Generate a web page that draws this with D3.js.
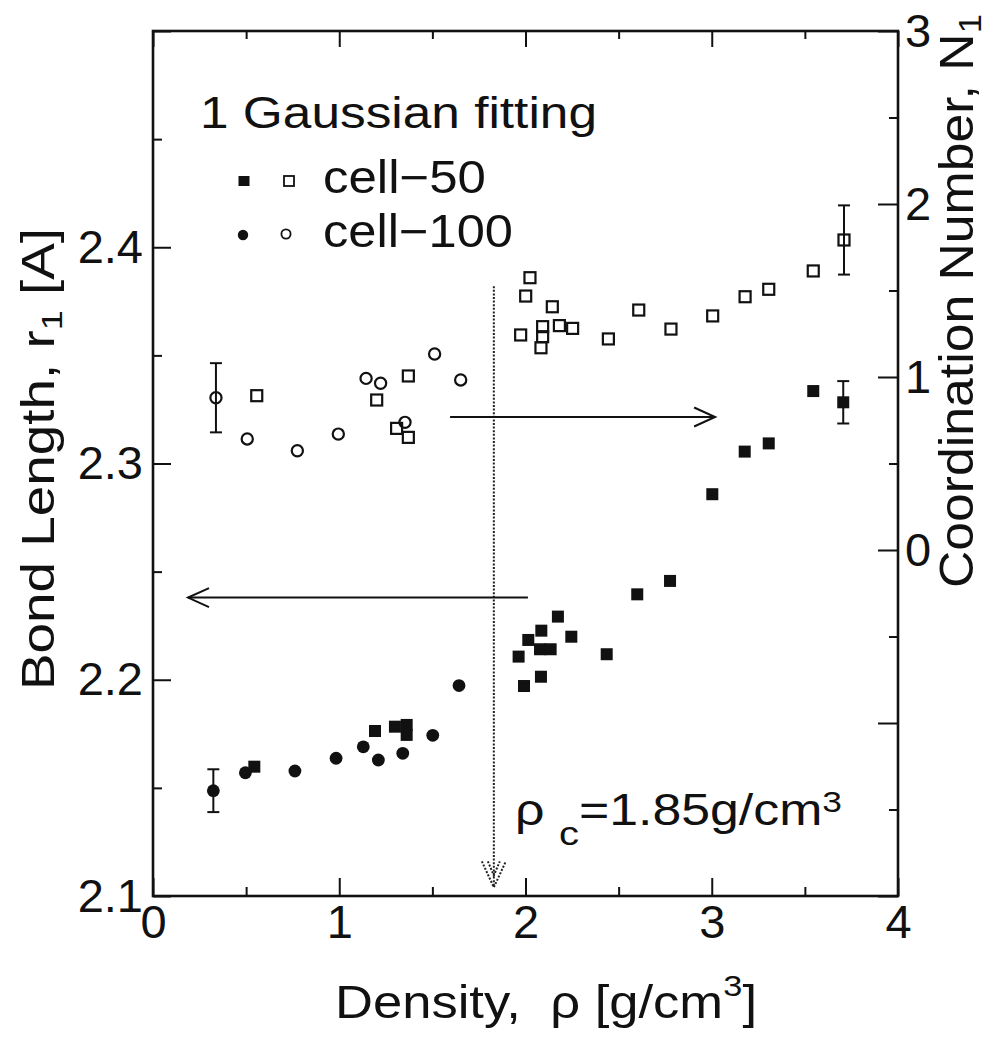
<!DOCTYPE html>
<html>
<head>
<meta charset="utf-8">
<script src="https://cdn.jsdelivr.net/npm/d3@7"></script>
<style>
  html, body { margin: 0; padding: 0; background: #fff; }
  svg { display: block; }
  text { font-family: "Liberation Sans", Arial, Helvetica, sans-serif; fill: #111; white-space: pre; }
</style>
</head>
<body>
<svg id="chart" width="1000" height="1041"></svg>
<script>
// ---------------- data ----------------
// cell-50, bond length r1 [A] (filled squares, left axis)
const cell50BondRho = [0.544, 1.192, 1.299, 1.362, 1.362, 1.992, 2.083, 1.963, 2.436, 2.078, 2.135, 2.246, 2.015, 2.085, 2.174, 2.600, 2.776, 3.003, 3.177, 3.306, 3.545, 3.706];
const cell50Bond    = [2.1598, 2.1763, 2.1783, 2.1791, 2.1745, 2.1971, 2.2014, 2.2107, 2.2118, 2.2141, 2.2141, 2.2199, 2.2184, 2.2227, 2.2292, 2.2395, 2.2457, 2.2858, 2.3055, 2.3093, 2.3335, 2.3283];
const cell50BondErr = [0, 0, 0, 0, 0, 0, 0, 0, 0, 0, 0, 0, 0, 0, 0, 0, 0, 0, 0, 0, 0, 0.0098];

// cell-100, bond length (filled circles, left axis)
const cell100BondRho = [0.324, 0.496, 0.762, 0.983, 1.129, 1.210, 1.341, 1.502, 1.643];
const cell100Bond    = [2.1487, 2.1570, 2.1578, 2.1637, 2.1690, 2.1629, 2.1660, 2.1743, 2.1973];
const cell100BondErr = [0.0099, 0, 0, 0, 0, 0, 0, 0, 0];

// cell-50, coordination number N1 (open squares, right axis)
const cell50CoordRho = [0.557, 1.201, 1.371, 1.308, 1.371, 2.024, 2.001, 2.144, 1.974, 2.092, 2.092, 2.083, 2.182, 2.253, 2.445, 2.608, 2.781, 3.005, 3.179, 3.306, 3.545, 3.710];
const cell50Coord    = [0.892, 0.867, 1.006, 0.703, 0.651, 1.574, 1.468, 1.406, 1.243, 1.291, 1.233, 1.169, 1.297, 1.281, 1.220, 1.387, 1.277, 1.353, 1.464, 1.507, 1.613, 1.792];
const cell50CoordErr = [0, 0, 0, 0, 0, 0, 0, 0, 0, 0, 0, 0, 0, 0, 0, 0, 0, 0, 0, 0, 0, 0.2];

// cell-100, coordination number (open circles, right axis)
const cell100CoordRho = [0.338, 0.506, 0.775, 0.995, 1.144, 1.222, 1.353, 1.512, 1.652];
const cell100Coord    = [0.880, 0.642, 0.574, 0.670, 0.992, 0.964, 0.738, 1.133, 0.983];
const cell100CoordErr = [0.2, 0, 0, 0, 0, 0, 0, 0, 0];

// axes
const xDomain = [0, 4];
const xTicks = [0, 1, 2, 3, 4];
const xMinorTicks = [0.5, 1.5, 2.5, 3.5];
const yLeftDomain = [2.1, 2.5];
const yLeftTicks = [2.1, 2.2, 2.3, 2.4];
const yLeftMajorTicks = [2.1, 2.2, 2.3, 2.4, 2.5];
const yLeftMinorTicks = [2.15, 2.25, 2.35, 2.45];
const yRightDomain = [-2, 3];
const yRightTicks = [0, 1, 2, 3];
const yRightMajorTicks = [-2, -1, 0, 1, 2, 3];
const yRightMinorTicks = [-1.5, -0.5, 0.5, 1.5, 2.5];

// annotations (data units)
const rhoCLabel = "1.85";
const rhoCLine = 1.83;            // dotted line position as drawn
const rhoCLineTop = 2.382;        // left-axis units
const rhoCLineBottom = 2.104;
const arrowRight = {from: 1.595, to: 3.018, y: 2.3215};   // points to the right axis
const arrowLeft  = {from: 2.013, to: 0.188, y: 2.238};    // points to the left axis

// ---------------- layout ----------------
const L = 153, R = 898, T = 31, B = 896;
const svg = d3.select("#chart");
const x  = d3.scaleLinear().domain(xDomain).range([L, R]);
const yL = d3.scaleLinear().domain(yLeftDomain).range([B, T]);
const yR = d3.scaleLinear().domain(yRightDomain).range([B, T]);
const ink = "#111";

function styleAxis(g) {
  g.select(".domain").remove();
  g.selectAll(".tick line").attr("stroke", ink).attr("stroke-width", 2);
  g.selectAll(".tick text").attr("font-size", 47).attr("fill", ink)
    .attr("font-family", '"Liberation Sans", Arial, Helvetica, sans-serif');
}

// bottom
svg.append("g").attr("transform", `translate(0,${B})`)
  .call(d3.axisBottom(x).tickValues(xTicks).tickSize(-18).tickPadding(9).tickFormat(d3.format("d")))
  .call(styleAxis);
svg.append("g").attr("transform", `translate(0,${B})`)
  .call(d3.axisBottom(x).tickValues(xMinorTicks).tickSize(-9).tickFormat(""))
  .call(styleAxis);
// top
svg.append("g").attr("transform", `translate(0,${T})`)
  .call(d3.axisTop(x).tickValues(xTicks).tickSize(-16).tickFormat(""))
  .call(styleAxis);
svg.append("g").attr("transform", `translate(0,${T})`)
  .call(d3.axisTop(x).tickValues(xMinorTicks).tickSize(-8).tickFormat(""))
  .call(styleAxis);
// left
svg.append("g").attr("transform", `translate(${L},0)`)
  .call(d3.axisLeft(yL).tickValues(yLeftMajorTicks).tickSize(-18).tickPadding(10)
    .tickFormat(d => yLeftTicks.includes(d) ? d3.format(".1f")(d) : ""))
  .call(styleAxis);
svg.append("g").attr("transform", `translate(${L},0)`)
  .call(d3.axisLeft(yL).tickValues(yLeftMinorTicks).tickSize(-9).tickFormat(""))
  .call(styleAxis);
// right
svg.append("g").attr("transform", `translate(${R},0)`)
  .call(d3.axisRight(yR).tickValues(yRightMajorTicks).tickSize(-20).tickPadding(7)
    .tickFormat(d => yRightTicks.includes(d) ? d3.format("d")(d) : ""))
  .call(styleAxis);
svg.append("g").attr("transform", `translate(${R},0)`)
  .call(d3.axisRight(yR).tickValues(yRightMinorTicks).tickSize(-9).tickFormat(""))
  .call(styleAxis);

// frame
svg.append("rect").attr("x", L).attr("y", T).attr("width", R - L).attr("height", B - T)
  .attr("fill", "none").attr("stroke", ink).attr("stroke-width", 2.6);

// ---------------- text helper ----------------
function runs(x0, y0, rot, parts, target, anchor) {
  const g = svg.append("g").attr("transform", `translate(${x0},${y0}) rotate(${rot})`);
  const inner = g.append("g");
  let cx = 0;
  parts.forEach(p => {
    const t = inner.append("text").attr("x", cx).attr("y", p.dy || 0)
      .attr("font-size", p.size).text(p.t);
    cx += t.node().getComputedTextLength();
  });
  const k = target ? target / cx : 1;
  const off = anchor === "middle" ? -cx * k / 2 : anchor === "end" ? -cx * k : 0;
  inner.attr("transform", `translate(${off},0) scale(${k},1)`);
  return g;
}

// axis titles
runs(54, 690, -90, [
  {t: "Bond Length, r", size: 46},
  {t: "1", size: 30, dy: 8},
  {t: " [A]", size: 46}
], 462, "start");
runs(973, 588, -90, [
  {t: "Coordination Number, N", size: 48},
  {t: "1", size: 32, dy: 8}
], 574, "start");
runs(335, 1018, 0, [
  {t: "Density,  \u03C1 [g/cm", size: 46},
  {t: "3", size: 30, dy: -22},
  {t: "]", size: 46}
], 422, "start");

// legend
runs(200, 128, 0, [{t: "1 Gaussian fitting", size: 44}], 397, "start");
runs(323, 193, 0, [{t: "cell\u221250", size: 46}], 163, "start");
runs(323, 247, 0, [{t: "cell\u2212100", size: 46}], 190, "start");
svg.append("rect").attr("x", 244 - 5.5).attr("y", 181 - 5).attr("width", 11).attr("height", 10).attr("fill", ink);
svg.append("rect").attr("x", 289 - 5).attr("y", 181 - 5).attr("width", 10).attr("height", 10)
  .attr("fill", "none").attr("stroke", ink).attr("stroke-width", 1.8);
svg.append("circle").attr("cx", 243).attr("cy", 235).attr("r", 5.2).attr("fill", ink);
svg.append("circle").attr("cx", 286).attr("cy", 234).attr("r", 4.6)
  .attr("fill", "none").attr("stroke", ink).attr("stroke-width", 1.8);

// rho_c annotation
runs(515, 825, 0, [
  {t: "\u03C1 ", size: 44},
  {t: "c", size: 34, dy: 20},
  {t: "=" + rhoCLabel + "g/cm", size: 44},
  {t: "3", size: 30, dy: -13}
], 327, "start");

// ---------------- annotations ----------------
// dotted critical density line with dotted open arrowhead
const dot = svg.append("g").attr("stroke", "#222").attr("stroke-width", 2).attr("fill", "none")
  .attr("stroke-dasharray", "2,1.6");
dot.append("line").attr("x1", x(rhoCLine)).attr("x2", x(rhoCLine))
  .attr("y1", yL(rhoCLineTop)).attr("y2", yL(rhoCLineBottom));
const tipX = x(rhoCLine), tipY = yL(rhoCLineBottom);
dot.append("path").attr("d", `M${tipX - 12},${tipY - 26} L${tipX},${tipY} L${tipX + 12},${tipY - 26}`);
dot.append("path").attr("d", `M${tipX - 6},${tipY - 26} L${tipX},${tipY - 12} L${tipX + 6},${tipY - 26}`);

function arrow(a) {
  const x1 = x(a.from), x2 = x(a.to), yy = yL(a.y);
  const dir = x2 > x1 ? 1 : -1;
  const g = svg.append("g").attr("stroke", ink).attr("stroke-width", 2).attr("fill", "none");
  g.append("line").attr("x1", x1).attr("x2", x2).attr("y1", yy).attr("y2", yy);
  g.append("path").attr("d", `M${x2 - dir * 21},${yy - 9.5} L${x2},${yy} L${x2 - dir * 21},${yy + 9.5}`);
}
arrow(arrowRight);
arrow(arrowLeft);

// ---------------- error bars ----------------
function errorBars(rhos, vals, errs, scale) {
  const g = svg.append("g").attr("stroke", ink).attr("stroke-width", 2);
  rhos.forEach((r, i) => {
    const e = errs[i];
    if (!e) return;
    const cx = x(r), yt = scale(vals[i] + e), yb = scale(vals[i] - e);
    g.append("line").attr("x1", cx).attr("x2", cx).attr("y1", yt).attr("y2", yb);
    g.append("line").attr("x1", cx - 6).attr("x2", cx + 6).attr("y1", yt).attr("y2", yt);
    g.append("line").attr("x1", cx - 6).attr("x2", cx + 6).attr("y1", yb).attr("y2", yb);
  });
}
errorBars(cell50BondRho, cell50Bond, cell50BondErr, yL);
errorBars(cell100BondRho, cell100Bond, cell100BondErr, yL);
errorBars(cell50CoordRho, cell50Coord, cell50CoordErr, yR);
errorBars(cell100CoordRho, cell100Coord, cell100CoordErr, yR);

// ---------------- markers ----------------
const zip = (a, b) => a.map((v, i) => [v, b[i]]);

svg.append("g").selectAll("rect").data(zip(cell50CoordRho, cell50Coord)).join("rect")
  .attr("x", d => x(d[0]) - 5.5).attr("y", d => yR(d[1]) - 5.5)
  .attr("width", 11).attr("height", 11)
  .attr("fill", "none").attr("stroke", ink).attr("stroke-width", 2.2);

svg.append("g").selectAll("circle").data(zip(cell100CoordRho, cell100Coord)).join("circle")
  .attr("cx", d => x(d[0])).attr("cy", d => yR(d[1])).attr("r", 5.6)
  .attr("fill", "none").attr("stroke", ink).attr("stroke-width", 2.2);

svg.append("g").selectAll("rect").data(zip(cell50BondRho, cell50Bond)).join("rect")
  .attr("x", d => x(d[0]) - 6).attr("y", d => yL(d[1]) - 6)
  .attr("width", 12).attr("height", 12).attr("fill", ink);

svg.append("g").selectAll("circle").data(zip(cell100BondRho, cell100Bond)).join("circle")
  .attr("cx", d => x(d[0])).attr("cy", d => yL(d[1])).attr("r", 6.4).attr("fill", ink);
</script>
</body>
</html>
